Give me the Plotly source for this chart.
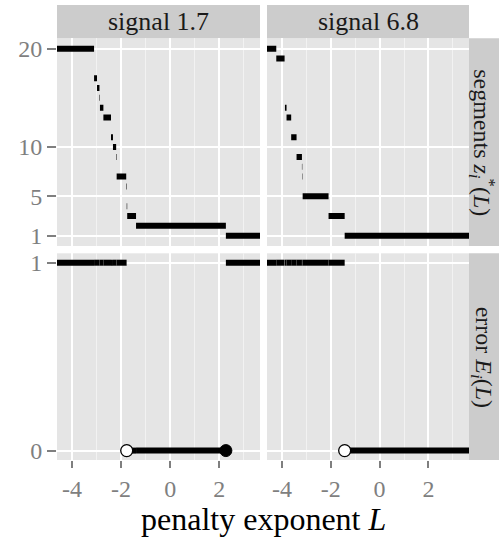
import plotly.graph_objects as go

# ---------------- data ----------------
signals = ["signal 1.7", "signal 6.8"]

# signal 1.7 : breakpoints of L between consecutive optimal models
breaks_17 = [-3.10, -2.98, -2.88, -2.86, -2.72, -2.41, -2.33, -2.20, -2.18,
             -1.79, -1.77, -1.75, -1.39, 2.27]
segs_17 = [20, 17, 16, 15, 14, 13, 11, 10, 9, 7, 6, 4, 3, 2, 1]
err_17 = [1, 1, 1, 1, 1, 1, 1, 1, 1, 1, 1, 0, 0, 0, 1]

# signal 6.8
breaks_68 = [-4.23, -3.89, -3.885, -3.875, -3.81, -3.62, -3.40, -3.18,
             -3.165, -3.15, -2.09, -1.43]
segs_68 = [20, 19, 18, 16, 14, 13, 11, 9, 8, 7, 5, 3, 1]
err_68 = [1, 1, 1, 1, 1, 1, 1, 1, 1, 1, 1, 1, 0]

x_ticks = [-4, -2, 0, 2]
x_minor = [-3, -1, 1, 3]
seg_ticks = [1, 5, 10, 20]
err_ticks = [0, 1]

X_RANGE = [-4.61, 3.66]
FAR = 10.0

FONT = "Liberation Serif"
W, H = 499, 537

# ---------------- layout geometry (pixels) ----------------
colL = (57, 260)
colR = (267, 469)
rowT = (38.3, 246)
rowB = (253.3, 460)
stripT = (5, 38.3)
stripR = (469, 499)


def xd(a):
    return [a[0] / W, a[1] / W]


def yd(a):
    return [1 - a[1] / H, 1 - a[0] / H]


fig = go.Figure()

panels = [
    (breaks_17, segs_17, err_17, "x", "y", "x3", "y3"),
    (breaks_68, segs_68, err_68, "x2", "y2", "x4", "y4"),
]

for breaks, segs, errs, xt, yt, xb, yb in panels:
    edges = [-FAR] + list(breaks) + [FAR]
    for i, (s, e) in enumerate(zip(segs, errs)):
        x0, x1 = edges[i], edges[i + 1]
        fig.add_trace(go.Scatter(x=[x0, x1], y=[s, s], mode="lines",
                                 line=dict(color="black", width=6),
                                 xaxis=xt, yaxis=yt, showlegend=False,
                                 hoverinfo="skip"))
        fig.add_trace(go.Scatter(x=[x0, x1], y=[e, e], mode="lines",
                                 line=dict(color="black", width=6),
                                 xaxis=xb, yaxis=yb, showlegend=False,
                                 hoverinfo="skip"))
    # target interval endpoints (error 0)
    zero_idx = [i for i, e in enumerate(errs) if e == 0]
    lo = edges[zero_idx[0]]
    hi = edges[zero_idx[-1] + 1]
    if abs(hi) < FAR:
        fig.add_trace(go.Scatter(x=[hi], y=[0], mode="markers",
                                 marker=dict(size=12, color="black",
                                             line=dict(color="black", width=1)),
                                 xaxis=xb, yaxis=yb, showlegend=False))
    if abs(lo) < FAR:
        fig.add_trace(go.Scatter(x=[lo], y=[0], mode="markers",
                                 marker=dict(size=12, color="white",
                                             line=dict(color="black", width=1.3)),
                                 xaxis=xb, yaxis=yb, showlegend=False))

tickfont = dict(family=FONT, size=24, color="#7F7F7F")

xcommon = dict(range=X_RANGE, tickmode="array", tickvals=x_ticks,
               ticktext=[str(v) for v in x_ticks],
               showgrid=True, gridcolor="white", gridwidth=2,
               zeroline=False, showline=False, automargin=False,
               minor=dict(tickmode="array", tickvals=x_minor, showgrid=True,
                          gridcolor="#F2F2F2", gridwidth=1, ticks=""),
               tickfont=tickfont, tickcolor="#7F7F7F", ticklen=7, tickwidth=1.5)

ycommon = dict(showgrid=True, gridcolor="white", gridwidth=2, zeroline=False,
               showline=False, automargin=False, tickfont=tickfont,
               tickcolor="#7F7F7F", ticklen=9, tickwidth=1.5, tickmode="array")

fig.update_layout(
    width=W, height=H, template="none",
    margin=dict(l=0, r=0, t=0, b=0, pad=0),
    paper_bgcolor="white", plot_bgcolor="#E5E5E5",
    showlegend=False,
    xaxis=dict(xcommon, domain=xd(colL), anchor="y", showticklabels=False, ticks=""),
    xaxis2=dict(xcommon, domain=xd(colR), anchor="y2", showticklabels=False, ticks=""),
    xaxis3=dict(xcommon, domain=xd(colL), anchor="y3", ticks="outside"),
    xaxis4=dict(xcommon, domain=xd(colR), anchor="y4", ticks="outside"),
    yaxis=dict(ycommon, domain=yd(rowT), anchor="x", range=[-0.05, 21.05],
               tickvals=seg_ticks, ticktext=[str(v) for v in seg_ticks], ticks="outside"),
    yaxis2=dict(ycommon, domain=yd(rowT), anchor="x2", range=[-0.05, 21.05],
                tickvals=seg_ticks, showticklabels=False, ticks=""),
    yaxis3=dict(ycommon, domain=yd(rowB), anchor="x3", range=[-0.05, 1.05],
                tickvals=err_ticks, ticktext=[str(v) for v in err_ticks], ticks="outside"),
    yaxis4=dict(ycommon, domain=yd(rowB), anchor="x4", range=[-0.05, 1.05],
                tickvals=err_ticks, showticklabels=False, ticks=""),
)

shapes = []
annotations = []
strip_fill = "#CCCCCC"
for col, lab in zip([colL, colR], signals):
    shapes.append(dict(type="rect", xref="paper", yref="paper",
                       x0=col[0] / W, x1=col[1] / W,
                       y0=1 - stripT[1] / H, y1=1 - stripT[0] / H,
                       fillcolor=strip_fill, line=dict(width=0), layer="below"))
    annotations.append(dict(text=lab, xref="paper", yref="paper",
                            x=(col[0] + col[1]) / 2 / W,
                            y=1 - (stripT[0] + stripT[1]) / 2 / H,
                            showarrow=False, xanchor="center", yanchor="middle",
                            font=dict(family=FONT, size=26, color="#1A1A1A")))

row_labels = ["segments <i>z</i><sub><i>i</i></sub><sup>*</sup>(<i>L</i>)",
              "error <i>E</i><sub><i>i</i></sub>(<i>L</i>)"]
for row, lab in zip([rowT, rowB], row_labels):
    shapes.append(dict(type="rect", xref="paper", yref="paper",
                       x0=stripR[0] / W, x1=stripR[1] / W,
                       y0=1 - row[1] / H, y1=1 - row[0] / H,
                       fillcolor=strip_fill, line=dict(width=0), layer="below"))
    annotations.append(dict(text=lab, xref="paper", yref="paper",
                            x=(stripR[0] + stripR[1]) / 2 / W - 2 / W,
                            y=1 - (row[0] + row[1]) / 2 / H,
                            showarrow=False, xanchor="center", yanchor="middle",
                            textangle=90,
                            font=dict(family=FONT, size=24, color="#1A1A1A")))

annotations.append(dict(text="penalty exponent <i>L</i>", xref="paper", yref="paper",
                        x=(colL[0] + colR[1]) / 2 / W, y=1 - 519 / H,
                        showarrow=False, xanchor="center", yanchor="middle",
                        font=dict(family=FONT, size=32, color="black")))

fig.update_layout(shapes=shapes, annotations=annotations)

fig.write_html("out.html")
